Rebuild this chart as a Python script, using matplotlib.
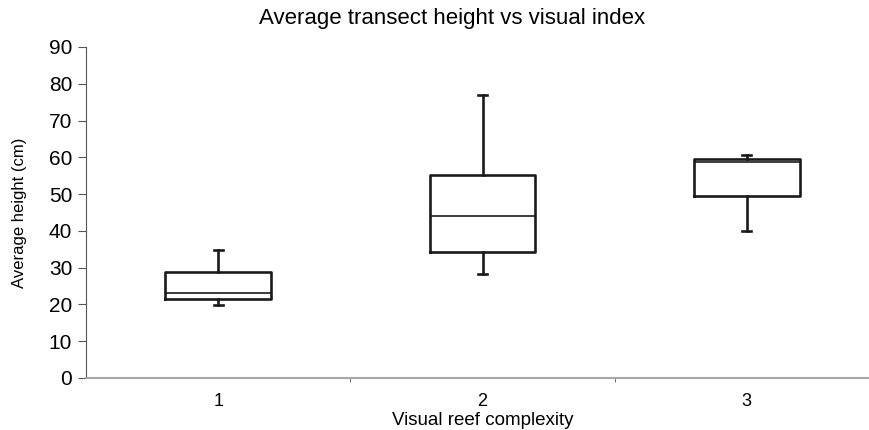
import matplotlib.pyplot as plt

plt.rcParams['font.family'] = ['Liberation Sans', 'DejaVu Sans']

# Box plot summary values
categories = ['1', '2', '3']
whisker_low = [19.8, 28.3, 40.0]
q1 = [21.5, 34.2, 49.5]
median = [23.1, 44.0, 58.7]
q3 = [28.9, 55.2, 59.5]
whisker_high = [34.8, 77.0, 60.7]

stats = []
for i in range(len(categories)):
    stats.append({'label': categories[i], 'whislo': whisker_low[i], 'q1': q1[i],
                  'med': median[i], 'q3': q3[i], 'whishi': whisker_high[i],
                  'fliers': []})

fig = plt.figure(figsize=(8.69, 4.30), dpi=100)
ax = fig.add_axes([0.099, 0.121, 0.9125, 0.7697])

box_style = dict(color='#1a1a1a', linewidth=1.9)
ax.bxp(stats, positions=[1, 2, 3], widths=0.4, capwidths=0.033,
       boxprops=box_style, whiskerprops=box_style, capprops=box_style,
       medianprops=dict(color='#1a1a1a', linewidth=1.2), showfliers=False)

ax.set_xlim(0.5, 3.5)
ax.set_ylim(0, 90)
ax.set_yticks(range(0, 91, 10))
ax.set_xticks([1, 2, 3])
ax.set_xticklabels(categories)
ax.set_xticks([1.5, 2.5], minor=True)

for side in ['top', 'right']:
    ax.spines[side].set_visible(False)
ax.spines['left'].set_color('#555555')
ax.spines['bottom'].set_color('#a8a8a8')
ax.spines['bottom'].set_linewidth(1.5)

ax.tick_params(axis='y', length=6, color='#555555', labelsize=15, pad=4)
ax.tick_params(axis='x', which='major', length=0, labelsize=13, pad=11)
ax.tick_params(axis='x', which='minor', length=3, color='#555555', direction='out')

fig.text(0.52, 0.958, 'Average transect height vs visual index', fontsize=16,
         ha='center', va='center')
ax.set_xlabel('Visual reef complexity', fontsize=13.5, labelpad=1)
ax.set_ylabel('Average height (cm)', fontsize=12)
ax.yaxis.set_label_coords(-0.074, 0.5)

fig.savefig('out.png', dpi=100)
